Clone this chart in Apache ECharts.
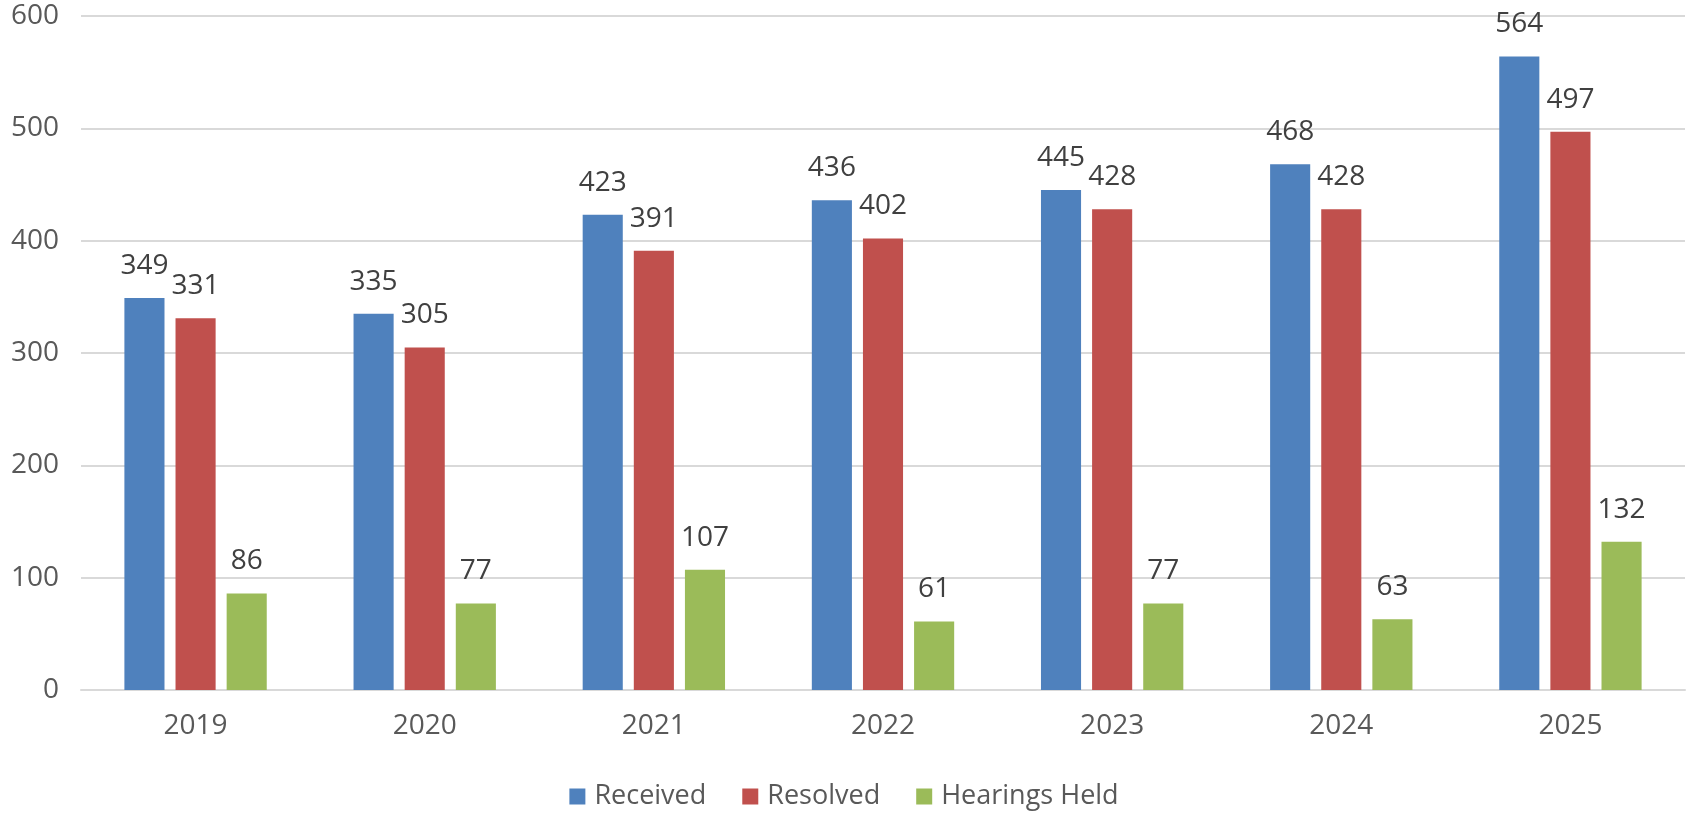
<!DOCTYPE html>
<html>
<head>
<meta charset="utf-8">
<script src="https://cdn.jsdelivr.net/npm/echarts@6/dist/echarts.min.js"></script>
<style>
  html, body { margin: 0; padding: 0; background: #fff; }
  #main { width: 1688px; height: 813px; }
</style>
</head>
<body>
<div id="main"></div>
<script>
var years = ['2019', '2020', '2021', '2022', '2023', '2024', '2025'];
var received = [349, 335, 423, 436, 445, 468, 564];
var resolved = [331, 305, 391, 402, 428, 428, 497];
var hearings = [86, 77, 107, 61, 77, 63, 132];

var chart = echarts.init(document.getElementById('main'));
var font = 'Open Sans';

function barSeries(name, data, color) {
    return {
        name: name,
        type: 'bar',
        data: data,
        barWidth: '17.5%',
        barGap: '27.5%',
        itemStyle: { color: color },
        label: {
            show: true,
            position: 'top',
            distance: 18,
            color: '#404040',
            fontSize: 28,
            fontFamily: font
        }
    };
}

var option = {
    animation: false,
    textStyle: { fontFamily: font },
    grid: { left: 81, right: 3, top: 16, bottom: 123, containLabel: false },
    legend: {
        bottom: -2,
        left: 'center',
        icon: 'rect',
        itemWidth: 16,
        itemHeight: 16,
        itemGap: 36,
        textStyle: { fontSize: 27, color: '#595959', fontFamily: font, padding: [0, 0, 0, 4] },
        data: ['Received', 'Resolved', 'Hearings Held']
    },
    xAxis: {
        type: 'category',
        data: years,
        axisTick: { show: false },
        axisLine: { lineStyle: { color: '#d9d9d9', width: 2 } },
        axisLabel: { color: '#595959', fontSize: 28, fontFamily: font, margin: 22 }
    },
    yAxis: {
        type: 'value',
        min: 0,
        max: 600,
        interval: 100,
        axisLine: { show: false },
        axisTick: { show: false },
        splitLine: { lineStyle: { color: '#d9d9d9', width: 2 } },
        axisLabel: { color: '#595959', fontSize: 28, fontFamily: font, margin: 22 }
    },
    series: [
        barSeries('Received', received, '#4f81bd'),
        barSeries('Resolved', resolved, '#c0504d'),
        barSeries('Hearings Held', hearings, '#9bbb59')
    ]
};
chart.setOption(option);
</script>
</body>
</html>
